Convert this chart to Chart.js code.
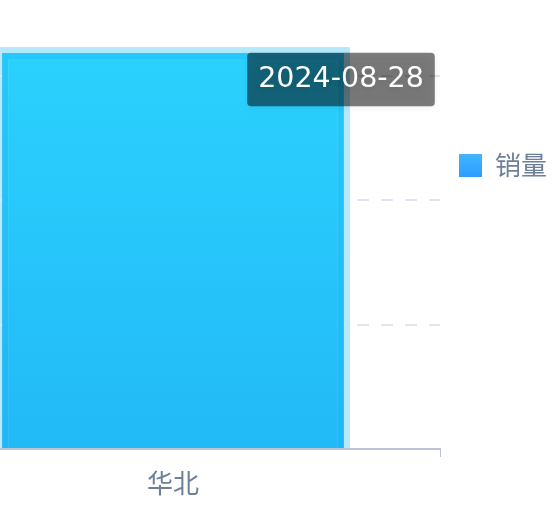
<!DOCTYPE html>
<html><head><meta charset="utf-8">
<script src="https://cdn.jsdelivr.net/npm/chart.js@4.4.1/dist/chart.umd.min.js"></script>
<style>
html,body{margin:0;padding:0;width:559px;height:507px;overflow:hidden;background:#fff;}
#wrap{position:absolute;left:-100px;top:-60px;width:659px;height:567px;}
</style></head><body>
<div id="wrap"><canvas id="c"></canvas></div>
<script>
const categories = ['华北'];
const seriesName = '销量';
const salesValues = [1590];
const yTicks = [0, 500, 1000, 1500, 2000];
const tooltipText = '2024-08-28';

const labelColor = '#6E7F9A';
const cjkFont = '"Noto Sans CJK SC", "Noto Sans", sans-serif';

function makeGradient(top, bottom) {
  return function(ctx) {
    const chart = ctx.chart; const ca = chart.chartArea;
    if (!ca) return top;
    const g = chart.ctx.createLinearGradient(0, ca.top, 0, ca.bottom);
    g.addColorStop(0, top);
    g.addColorStop(1, bottom);
    return g;
  };
}
const barFill = makeGradient('#2DD8FF', '#22B9F7');
const barEdge = makeGradient('#28CCFD', '#21B6F5');

Chart.Tooltip.positioners.fixedSpot = function(items) {
  if (!items.length) return false;
  const ca = this.chart.chartArea;
  const el = items[0].element;
  return { x: ca.right - 99, y: el.y + 26.5, xAlign: 'center', yAlign: 'center' };
};

const hoverShadow = {
  id: 'hoverShadow',
  beforeDraw(chart) {
    const el = chart.getDatasetMeta(0).data[0];
    if (!el) return;
    const p = el.getProps(['x', 'y', 'width', 'base'], true);
    const ctx = chart.ctx;
    ctx.save();
    ctx.fillStyle = '#B4E8FA';
    ctx.fillRect(p.x - p.width / 2 - 2, p.y - 6, p.width + 8, p.base - p.y + 6);
    ctx.restore();
  }
};

const sideLegend = {
  id: 'sideLegend',
  afterDraw(chart) {
    const ca = chart.chartArea; const ctx = chart.ctx;
    const bx = ca.right + 19, by = ca.top + 203;
    ctx.save();
    const g = ctx.createLinearGradient(0, by, 0, by + 23);
    g.addColorStop(0, '#40B6FF');
    g.addColorStop(1, '#2F9CFF');
    ctx.fillStyle = g;
    ctx.fillRect(bx, by, 23, 23);
    ctx.fillStyle = labelColor;
    ctx.font = '26px ' + cjkFont;
    ctx.textBaseline = 'middle';
    ctx.textAlign = 'left';
    ctx.fillText(chart.data.datasets[0].label, bx + 36, by + 11.5);
    ctx.restore();
  }
};

const tooltipShadow = {
  id: 'tooltipShadow',
  beforeTooltipDraw(chart) {
    const ctx = chart.ctx;
    ctx.save();
    ctx.shadowColor = 'rgba(0,0,0,0.12)';
    ctx.shadowBlur = 6;
    ctx.shadowOffsetY = 2;
  },
  afterTooltipDraw(chart) {
    chart.ctx.restore();
  }
};

const chart = new Chart(document.getElementById('c'), {
  type: 'bar',
  data: {
    labels: categories,
    datasets: [{
      label: seriesName,
      data: salesValues,
      backgroundColor: barFill,
      hoverBackgroundColor: barFill,
      borderColor: barEdge,
      hoverBorderColor: barEdge,
      borderWidth: 6,
      borderSkipped: 'bottom',
      categoryPercentage: 1,
      barPercentage: 0.64
    }]
  },
  options: {
    responsive: true,
    maintainAspectRatio: false,
    animation: false,
    events: [],
    layout: { padding: { left: 6, right: 119, top: 11, bottom: 0 } },
    scales: {
      x: {
        afterFit(s) { s.height = 58; },
        grid: { display: true, drawOnChartArea: false, drawTicks: true, tickLength: 8, color: '#BAC4D6', tickWidth: 1 },
        border: { display: true, color: '#BAC4D6', width: 2 },
        ticks: { color: labelColor, font: { family: cjkFont, size: 26 }, padding: 11 }
      },
      y: {
        min: yTicks[0],
        max: yTicks[yTicks.length - 1],
        afterFit(s) { s.width = 0; },
        ticks: { display: false, stepSize: yTicks[1] - yTicks[0] },
        grid: { color: '#E0E6F1', lineWidth: 2, drawTicks: false },
        border: { display: false, dash: [12, 12], dashOffset: 5 }
      }
    },
    plugins: {
      legend: { display: false },
      tooltip: {
        enabled: true,
        position: 'fixedSpot',
        xAlign: 'center', yAlign: 'center',
        displayColors: false,
        caretSize: 0,
        cornerRadius: 4,
        backgroundColor: 'rgba(0,0,0,0.5)',
        bodyColor: '#ffffff',
        bodyFont: { family: '"DejaVu Sans", sans-serif', size: 28.5, lineHeight: 1 },
        padding: { left: 11, right: 11, top: 12.5, bottom: 12.5 },
        callbacks: { title: () => [], label: () => tooltipText }
      }
    }
  },
  plugins: [hoverShadow, sideLegend, tooltipShadow]
});
chart.tooltip.setActiveElements([{ datasetIndex: 0, index: 0 }], { x: 0, y: 0 });
chart.draw();
</script>
</body></html>
